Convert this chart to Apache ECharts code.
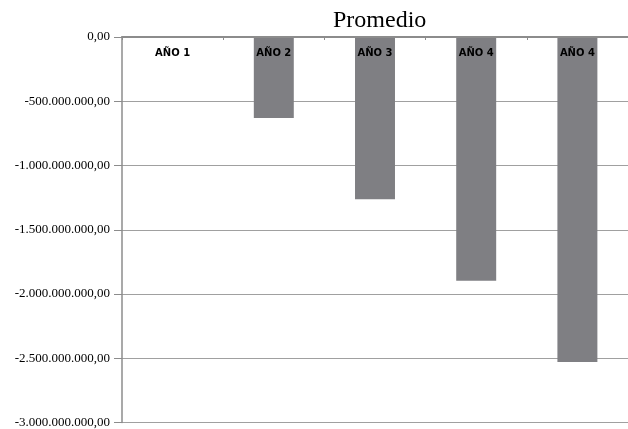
<!DOCTYPE html>
<html>
<head>
<meta charset="utf-8">
<script src="https://cdn.jsdelivr.net/npm/echarts@6/dist/echarts.min.js"></script>
<style>
  html, body { margin: 0; padding: 0; background: #ffffff; }
  #chart { width: 628px; height: 429px; }
</style>
</head>
<body>
<div id="chart"></div>
<script>
// Average result per year (negative amounts)
const categories = ['AÑO 1', 'AÑO 2', 'AÑO 3', 'AÑO 4', 'AÑO 4'];
const promedio = [0, -631000000, -1263000000, -1897000000, -2530000000];
const yMin = -3000000000;
const yMax = 0;
const yStep = 500000000;

// Spanish number style: '.' for thousands, ',' for decimals
function formatEs(v) {
  const neg = v < 0;
  const s = Math.round(Math.abs(v)).toString().replace(/\B(?=(\d{3})+(?!\d))/g, '.');
  return (neg ? '-' : '') + s + ',00';
}

const chart = echarts.init(document.getElementById('chart'), null, { renderer: 'canvas' });
chart.setOption({
  animation: false,
  backgroundColor: '#ffffff',
  title: {
    text: 'Promedio',
    left: 328,
    top: 4,
    textStyle: {
      fontFamily: 'Liberation Serif',
      fontWeight: 'normal',
      fontSize: 24,
      color: '#000000'
    }
  },
  grid: {
    left: 122,
    right: -1,
    top: 37,
    bottom: 4,
    containLabel: false
  },
  xAxis: {
    type: 'category',
    data: categories,
    position: 'top',
    z: 10,
    axisLine: { show: true, lineStyle: { color: '#8c8c8c', width: 2 } },
    axisTick: { show: true, inside: true, length: 3, alignWithLabel: false, lineStyle: { color: '#8c8c8c' } },
    axisLabel: {
      inside: true,
      margin: 11,
      fontFamily: 'DejaVu Sans',
      fontWeight: 'bold',
      fontSize: 10,
      color: '#000000'
    },
    splitLine: { show: false }
  },
  yAxis: {
    type: 'value',
    min: yMin,
    max: yMax,
    interval: yStep,
    axisLine: { show: true, lineStyle: { color: '#8c8c8c', width: 1.5 } },
    axisTick: { show: true, length: 8, lineStyle: { color: '#8c8c8c' } },
    axisLabel: {
      margin: 12,
      fontFamily: 'Liberation Serif',
      fontSize: 13,
      color: '#000000',
      formatter: formatEs
    },
    splitLine: { show: true, lineStyle: { color: '#a0a0a0', width: 1 } }
  },
  series: [{
    name: 'Promedio',
    type: 'bar',
    data: promedio,
    barWidth: '39.5%',
    itemStyle: { color: '#7f7f83' }
  }]
});
</script>
</body>
</html>
